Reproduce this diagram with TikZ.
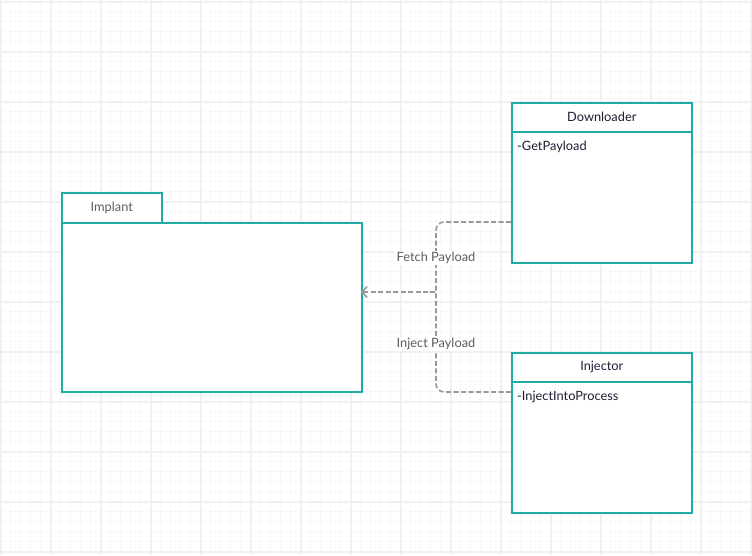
\documentclass[tikz,border=0pt]{standalone}
\usepackage{fontspec}
\setmainfont{Lato}
\usepackage{xcolor}
\usetikzlibrary{calc,arrows.meta}
\definecolor{teal}{HTML}{22ABA5}
\definecolor{wire}{HTML}{999999}
\definecolor{ink}{HTML}{1E1E35}
\definecolor{note}{HTML}{5C5C5C}
\tikzset{
  box/.style={draw=teal, line width=1.6pt, fill=white, inner sep=0pt, anchor=north west},
  conn/.style={draw=wire, line width=1.6pt, dash pattern=on 5pt off 2.5pt},
  lbl/.style={fill=white, inner sep=1.5pt, text=note}
}

\begin{document}
\begin{tikzpicture}[x=1pt, y=-1pt, every node/.style={font=\fontsize{12.8}{15}\selectfont}]
  \useasboundingbox (0,0) rectangle (752,555);
  \fill[white] (0,0) rectangle (752,555);
  % grid
  \foreach \g in {10,20,...,750} \draw[black!3, line width=1pt] (\g+0.7,0) -- (\g+0.7,555);
  \foreach \g in {10,20,...,550} \draw[black!3, line width=1pt] (0,\g+1.7) -- (752,\g+1.7);
  \foreach \g in {0,50,...,750} \draw[black!6, line width=2pt] (\g+0.7,0) -- (\g+0.7,555);
  \foreach \g in {0,50,...,550} \draw[black!6, line width=2pt] (0,\g+1.7) -- (752,\g+1.7);
  % package
  \node[box, minimum width=100pt, minimum height=30pt, text=note] (impltab) at (61,192) {Implant};
  \node[box, minimum width=300pt, minimum height=169pt] (impl) at (61,222) {};
  % classes
  \node[box, minimum width=180pt, minimum height=29pt, text=ink] (dl) at (511,102) {Downloader};
  \node[box, minimum width=180pt, minimum height=131pt] (dlbody) at (511,131) {};
  \node[anchor=north west, text=ink, inner sep=0pt] (dlop) at (517,141) {-GetPayload};
  \node[box, minimum width=180pt, minimum height=29pt, text=ink] (inj) at (511,352) {Injector};
  \node[box, minimum width=180pt, minimum height=131pt] (injbody) at (511,381) {};
  \node[anchor=north west, text=ink, inner sep=0pt] (injop) at (517,391) {-InjectIntoProcess};
  % connectors
  \coordinate (dlport) at (511,222);
  \coordinate (injport) at (511,392);
  \coordinate (implport) at (361,292);
  \coordinate (jn) at (436,292);
  \draw[conn, rounded corners=8pt] (dlport) -| ($(jn)+(0,-8)$) .. controls (jn) .. ($(jn)+(-8,0)$);
  \draw[conn, rounded corners=8pt] (injport) -| ($(jn)+(0,8)$) .. controls (jn) .. ($(jn)+(-8,0)$);
  \draw[conn, -{Straight Barb[length=5pt,width=11pt]}] ($(jn)+(-8,0)$) -- (implport);
  \node[lbl] (fetch) at (436,258) {Fetch Payload};
  \node[lbl] (inject) at (436,344) {Inject Payload};
\end{tikzpicture}
\end{document}
